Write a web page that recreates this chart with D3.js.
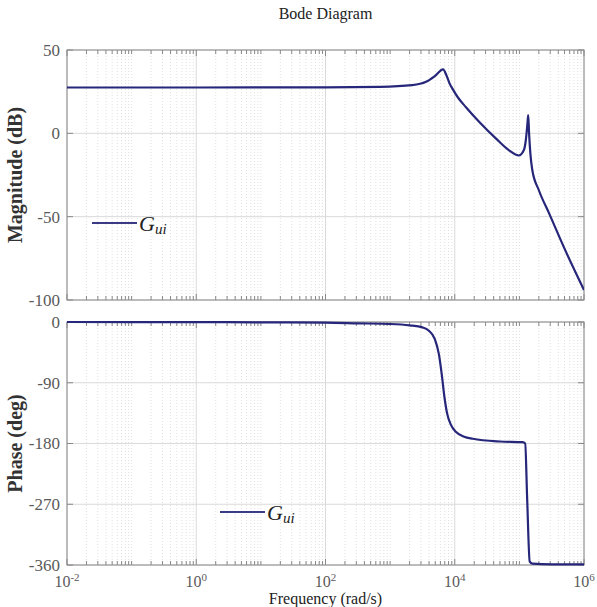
<!DOCTYPE html>
<html>
<head>
<meta charset="utf-8">
<script src="https://cdn.jsdelivr.net/npm/d3@7"></script>
<style>
  body { margin: 0; background: #fff; }
  svg { display: block; font-family: "Liberation Serif", "Times New Roman", serif; }
</style>
</head>
<body>
<div id="vis"></div>
<script>
// values
// magnitude curve: frequency (rad/s) and gain (dB)
let magFreq = [0.01, 1, 100, 700, 2200, 3600, 4900, 6600, 7400, 8300, 9300, 11200, 14800, 24000, 43600,
  69200, 97700, 117500, 125900, 133400, 137100, 141300, 147900, 158500, 199500, 288400, 524800, 1000000];
let magDb = [27.5, 27.5, 27.6, 27.9, 28.9, 30.9, 34.3, 38.4, 35, 30, 26.5, 21.5, 15.8, 6.8, -3.2,
  -10.2, -13.3, -10, -4, 6, 11, 0, -12, -22, -34, -48, -71, -94];

// phase curve: frequency (rad/s) and phase (deg)
let phaseFreq = [0.01, 1, 10, 100, 316, 1000, 2000, 3160, 3980, 4900, 5690, 6300, 6900, 7600, 8700,
  10500, 14000, 19000, 50100, 112200, 123000, 131800, 144500, 158500, 316200, 1000000];
let phaseDeg = [0, -0.2, -0.5, -1, -2, -3, -5, -8, -13, -25, -48, -78, -110, -135, -152,
  -163, -170, -173, -177, -178, -180, -260, -355, -358, -359, -359];

let freqTicks = [1e-2, 1e0, 1e2, 1e4, 1e6];
let freqTickExp = ['-2', '0', '2', '4', '6'];
let magTicks = [50, 0, -50, -100];
let phaseTicks = [0, -90, -180, -270, -360];

let width = 597, height = 607;
let left = 67, right = 584;
let magTop = 50, magBottom = 300;
let phTop = 322, phBottom = 565;
let lineColor = '#26267a';

let svg = d3.select('#vis')
  .append('svg')
  .attr('width', width)
  .attr('height', height);

let x = d3.scaleLog().domain([1e-2, 1e6]).range([left, right]);
let yMag = d3.scaleLinear().domain([-100, 50]).range([magBottom, magTop]);
let yPh = d3.scaleLinear().domain([-360, 0]).range([phBottom, phTop]);

// all 1..9 x 10^k values except the labelled decades
let minorTicks = x.ticks().filter(d => !freqTicks.some(t => Math.abs(t - d) / t < 1e-9));

function drawPanel(y, yTicks, top, bottom, id) {
  let g = svg.append('g');

  // minor vertical grid
  g.selectAll('.vminor').data(minorTicks).enter().append('line')
    .attr('x1', d => x(d)).attr('x2', d => x(d))
    .attr('y1', top).attr('y2', bottom)
    .attr('stroke', '#e0e0e0').attr('stroke-dasharray', '1,2');

  // major vertical grid
  g.selectAll('.vmajor').data(freqTicks).enter().append('line')
    .attr('x1', d => x(d)).attr('x2', d => x(d))
    .attr('y1', top).attr('y2', bottom)
    .attr('stroke', '#dadada');

  // horizontal grid
  g.selectAll('.hgrid').data(yTicks).enter().append('line')
    .attr('x1', left).attr('x2', right)
    .attr('y1', d => y(d)).attr('y2', d => y(d))
    .attr('stroke', '#dadada');

  // ticks on top and bottom edges
  [top, bottom].forEach(function (edge) {
    let dir = edge == top ? 1 : -1;
    g.selectAll(null).data(minorTicks).enter().append('line')
      .attr('x1', d => x(d)).attr('x2', d => x(d))
      .attr('y1', edge).attr('y2', edge + dir * 4)
      .attr('stroke', '#888');
    g.selectAll(null).data(freqTicks).enter().append('line')
      .attr('x1', d => x(d)).attr('x2', d => x(d))
      .attr('y1', edge).attr('y2', edge + dir * 6)
      .attr('stroke', '#888');
  });

  // ticks on left and right edges
  [left, right].forEach(function (edge) {
    let dir = edge == left ? 1 : -1;
    g.selectAll(null).data(yTicks).enter().append('line')
      .attr('x1', edge).attr('x2', edge + dir * 6)
      .attr('y1', d => y(d)).attr('y2', d => y(d))
      .attr('stroke', '#888');
  });

  // y tick labels
  g.selectAll('.ylab').data(yTicks).enter().append('text')
    .attr('x', left - 7)
    .attr('y', d => y(d))
    .attr('dy', '0.35em')
    .attr('text-anchor', 'end')
    .attr('font-size', 17)
    .attr('fill', '#5a5a5a')
    .text(d => d);

  // frame
  g.append('rect')
    .attr('x', left).attr('y', top)
    .attr('width', right - left).attr('height', bottom - top)
    .attr('fill', 'none')
    .attr('stroke', '#8a8a8a');

  svg.append('clipPath').attr('id', id)
    .append('rect')
    .attr('x', left).attr('y', top - 2)
    .attr('width', right - left).attr('height', bottom - top + 4);
}

drawPanel(yMag, magTicks, magTop, magBottom, 'clipMag');
drawPanel(yPh, phaseTicks, phTop, phBottom, 'clipPh');

// curves
let magLine = d3.line()
  .x((d, i) => x(magFreq[i]))
  .y(d => yMag(d))
  .curve(d3.curveMonotoneX);

let phLine = d3.line()
  .x((d, i) => x(phaseFreq[i]))
  .y(d => yPh(d))
  .curve(d3.curveMonotoneX);

svg.append('path')
  .attr('d', magLine(magDb))
  .attr('clip-path', 'url(#clipMag)')
  .attr('fill', 'none')
  .attr('stroke', lineColor)
  .attr('stroke-width', 2.2);

svg.append('path')
  .attr('d', phLine(phaseDeg))
  .attr('clip-path', 'url(#clipPh)')
  .attr('fill', 'none')
  .attr('stroke', lineColor)
  .attr('stroke-width', 2.2);

// x tick labels (powers of ten)
let xl = svg.selectAll('.xlab').data(freqTicks).enter().append('text')
  .attr('x', d => x(d))
  .attr('y', phBottom + 22)
  .attr('text-anchor', 'middle')
  .attr('font-size', 16)
  .attr('fill', '#5a5a5a');
xl.append('tspan').text('10');
xl.append('tspan')
  .attr('font-size', 11)
  .attr('dy', -6)
  .text((d, i) => freqTickExp[i]);

// title and axis labels
svg.append('text')
  .attr('x', (left + right) / 2)
  .attr('y', 19)
  .attr('text-anchor', 'middle')
  .attr('font-size', 16)
  .attr('fill', '#222')
  .text('Bode Diagram');

svg.append('text')
  .attr('x', (left + right) / 2)
  .attr('y', 604)
  .attr('text-anchor', 'middle')
  .attr('font-size', 16)
  .attr('fill', '#222')
  .text('Frequency  (rad/s)');

svg.append('text')
  .attr('transform', 'translate(22,' + (magTop + magBottom) / 2 + ') rotate(-90)')
  .attr('text-anchor', 'middle')
  .attr('font-size', 20)
  .attr('font-weight', 'bold')
  .attr('fill', '#333')
  .text('Magnitude (dB)');

svg.append('text')
  .attr('transform', 'translate(22,' + (phTop + phBottom) / 2 + ') rotate(-90)')
  .attr('text-anchor', 'middle')
  .attr('font-size', 20)
  .attr('font-weight', 'bold')
  .attr('fill', '#333')
  .text('Phase (deg)');

// legends
function legend(x0, y0) {
  svg.append('line')
    .attr('x1', x0).attr('x2', x0 + 45)
    .attr('y1', y0).attr('y2', y0)
    .attr('stroke', '#3a3a86')
    .attr('stroke-width', 2.2);
  let t = svg.append('text')
    .attr('x', x0 + 47)
    .attr('y', y0 + 8)
    .attr('font-size', 22)
    .attr('font-style', 'italic')
    .attr('fill', '#222');
  t.append('tspan').text('G');
  t.append('tspan').attr('font-size', 15).attr('dy', 3).text('ui');
}
legend(92, 223);
legend(220, 512);
</script>
</body>
</html>
